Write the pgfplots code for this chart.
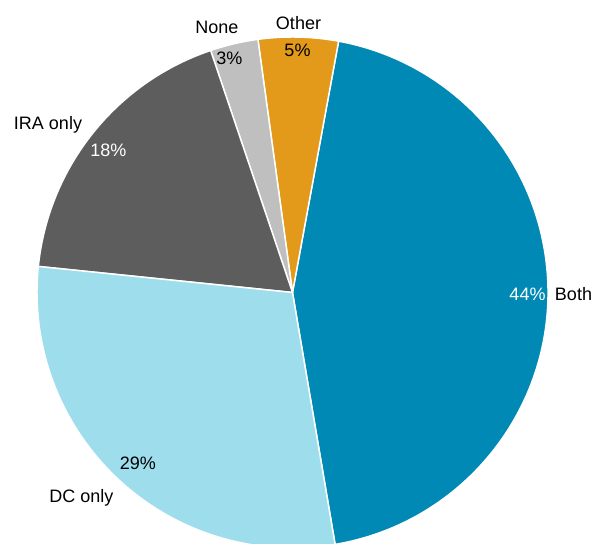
\documentclass[border=0pt]{standalone}
\usepackage{pgfplots}
\usepackage{pgfplotstable}
\usepackage{fontspec}
\setmainfont{Liberation Sans}
\pgfplotsset{compat=1.18}

\definecolor{slice0}{RGB}{0,137,180}   % Both
\definecolor{slice1}{RGB}{227,153,26}  % Other
\definecolor{slice2}{RGB}{191,191,191} % None
\definecolor{slice3}{RGB}{93,93,93}    % IRA only
\definecolor{slice4}{RGB}{158,221,236} % DC only

% shares in percent, counter-clockwise from the lower right
\pgfplotstableread{
label pct
Both 44
Other 5
None 3
IRA 18
DC 29
}\piedata

\begin{document}
\begin{tikzpicture}[
    lbl/.style={font=\fontsize{13.5}{16}\selectfont, inner sep=0pt, anchor=base},
]
\begin{axis}[
    x=191.6pt, y=191.6pt,
    xmin=-1.1448, xmax=1.1918,
    ymin=-0.9843, ymax=1.1448,
    hide axis,
    clip=true,
]
\path (rel axis cs:0,0) rectangle (rel axis cs:1,1);
\xdef\angstart{-80.4}
\pgfplotsinvokeforeach{0,...,4}{
  \pgfplotstablegetelem{#1}{pct}\of\piedata
  \pgfmathsetmacro\angend{\angstart+\pgfplotsretval*360/99}
  \edef\temp{\noexpand\fill[slice#1, draw=white, line width=1.1pt, line join=round]
    (axis cs:0,0) -- (axis cs:{cos(\angstart)},{sin(\angstart)})
    arc[start angle=\angstart, end angle=\angend, radius=1] -- cycle;}
  \temp
  \xdef\angstart{\angend}
}

\node[lbl, white] at (axis cs:0.9198,-0.0321) {44\%};
\node[lbl] at (axis cs:1.0998,-0.0321) {Both};
\node[lbl] at (axis cs:0.0196,0.9229) {5\%};
\node[lbl] at (axis cs:0.0235,1.0301) {Other};
\node[lbl] at (axis cs:-0.2466,0.8904) {3\%};
\node[lbl] at (axis cs:-0.2955,1.0145) {None};
\node[lbl, white] at (axis cs:-0.7202,0.5342) {18\%};
\node[lbl] at (axis cs:-0.9569,0.6387) {IRA only};
\node[lbl] at (axis cs:-0.6047,-0.6947) {29\%};
\node[lbl] at (axis cs:-0.8258,-0.8239) {DC only};
\end{axis}
\end{tikzpicture}
\end{document}
